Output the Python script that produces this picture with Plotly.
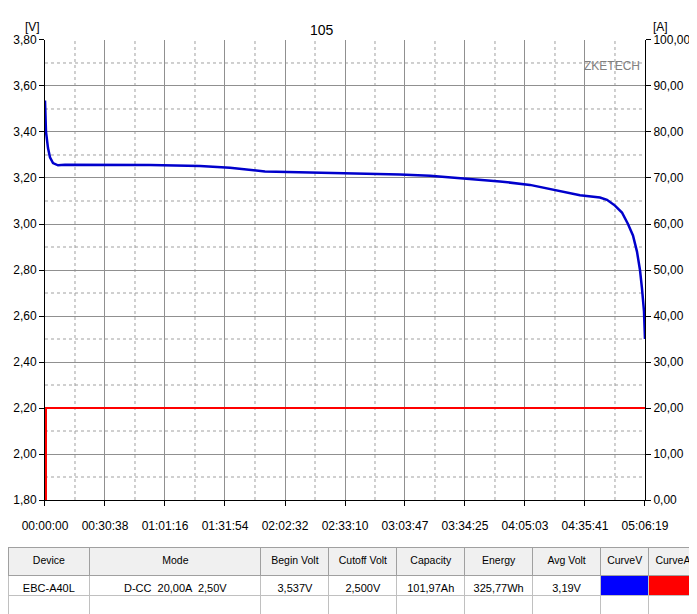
import plotly.graph_objects as go
from plotly.subplots import make_subplots

# elapsed time in seconds, voltage readings
t_volt = [0, 31, 92, 153, 245, 398, 612, 1684, 3216, 4748, 5667, 6739, 7811, 9343,
          10874, 11793, 12712, 13937, 14856, 15775, 16388, 17000, 17215, 17460,
          17674, 17858, 18011, 18134, 18226, 18287, 18349, 18379]
volt = [3.537, 3.40, 3.33, 3.29, 3.265, 3.255, 3.258, 3.258, 3.257, 3.252, 3.245,
        3.228, 3.225, 3.22, 3.215, 3.21, 3.20, 3.185, 3.17, 3.145, 3.125, 3.115,
        3.105, 3.08, 3.05, 3.00, 2.95, 2.88, 2.80, 2.72, 2.62, 2.50]
t_amp = [0, 30, 31, 18379]
amp = [0, 0, 20, 20]

x_ticks = [0, 1838, 3676, 5514, 7352, 9190, 11027, 12865, 14703, 16541, 18379]
x_labels = ["00:00:00", "00:30:38", "01:01:16", "01:31:54", "02:02:32", "02:33:10",
            "03:03:47", "03:34:25", "04:05:03", "04:35:41", "05:06:19"]
v_ticks = [1.8, 2.0, 2.2, 2.4, 2.6, 2.8, 3.0, 3.2, 3.4, 3.6, 3.8]
a_ticks = [0, 10, 20, 30, 40, 50, 60, 70, 80, 90, 100]

headers = ["Device", "Mode", "Begin Volt", "Cutoff Volt", "Capacity", "Energy",
           "Avg Volt", "CurveV", "CurveA"]
row1 = ["EBC-A40L", "D-CC  20,00A  2,50V", "3,537V", "2,500V", "101,97Ah",
        "325,77Wh", "3,19V", "", ""]
col_widths = [83, 174, 69, 69, 69, 69, 69, 49, 49]

font = "Liberation Sans, Arial, sans-serif"
fig = make_subplots(specs=[[{"secondary_y": True}]])

fig.add_trace(go.Scatter(x=t_amp, y=amp, mode="lines",
                         line=dict(color="#ff0000", width=2)), secondary_y=True)
fig.add_trace(go.Scatter(x=t_volt, y=volt, mode="lines",
                         line=dict(color="#0000cc", width=2.5)), secondary_y=False)

XD = [0.0537, 0.9245]
YD = [0.1881, 0.9472]

# dashed minor grid lines
for i in range(10):
    xm = (x_ticks[i] + x_ticks[i + 1]) / 2
    fig.add_shape(type="line", xref="x", yref="paper", x0=xm, x1=xm, y0=YD[0], y1=YD[1],
                  line=dict(color="#a0a0a0", width=1, dash="3px,3px"), layer="below")
    ym = (v_ticks[i] + v_ticks[i + 1]) / 2
    fig.add_shape(type="line", xref="paper", yref="y", x0=XD[0], x1=XD[1], y0=ym, y1=ym,
                  line=dict(color="#a0a0a0", width=1, dash="3px,3px"), layer="below")

fig.add_trace(go.Table(
    domain=dict(x=[0, 1], y=[0, 0.109]),
    columnwidth=col_widths,
    header=dict(values=headers, fill_color="#f0f0f0", line_color="#a0a0a0",
                font=dict(family=font, size=10.5, color="black"), height=28),
    cells=dict(values=[[r, ""] for r in row1],
               fill_color=[["white", "white"]] * 7 + [["#0000ff", "white"], ["#ff0000", "white"]],
               line_color="#c0c0c0", font=dict(family=font, size=11, color="black"),
               height=20),
))

axis_common = dict(showline=True, linecolor="black", ticks="outside", ticklen=5,
                   tickcolor="black", gridcolor="#909090", zeroline=False, automargin=False)
fig.update_xaxes(range=[0, 18379], tickvals=x_ticks, ticktext=x_labels,
                 domain=XD, ticklabelstandoff=10, **axis_common)
fig.update_yaxes(range=[1.8, 3.8], tickvals=v_ticks,
                 ticktext=[f"{v:.2f}".replace(".", ",") for v in v_ticks],
                 domain=YD, secondary_y=False, **axis_common)
fig.update_yaxes(range=[0, 100], tickvals=a_ticks,
                 ticktext=[f"{a:.2f}".replace(".", ",") for a in a_ticks],
                 secondary_y=True, showline=True, linecolor="black", ticks="outside",
                 ticklen=5, tickcolor="black", showgrid=False, zeroline=False,
                 automargin=False)

fig.update_layout(
    width=689, height=606, margin=dict(l=0, r=0, t=0, b=0),
    paper_bgcolor="white", plot_bgcolor="white", showlegend=False,
    font=dict(family=font, size=12, color="black"),
    annotations=[
        dict(text="105", x=0.456, y=0.980, xref="paper", yref="paper", showarrow=False,
             font=dict(size=14)),
        dict(text="[V]", x=0.022, y=0.983, xref="paper", yref="paper", showarrow=False),
        dict(text="[A]", x=0.961, y=0.983, xref="paper", yref="paper", showarrow=False),
        dict(text="ZKETECH", x=0.92, y=0.919, xref="paper", yref="paper", showarrow=False,
             xanchor="right", font=dict(size=12, color="#808080")),
    ],
)

fig.write_html("out.html")
